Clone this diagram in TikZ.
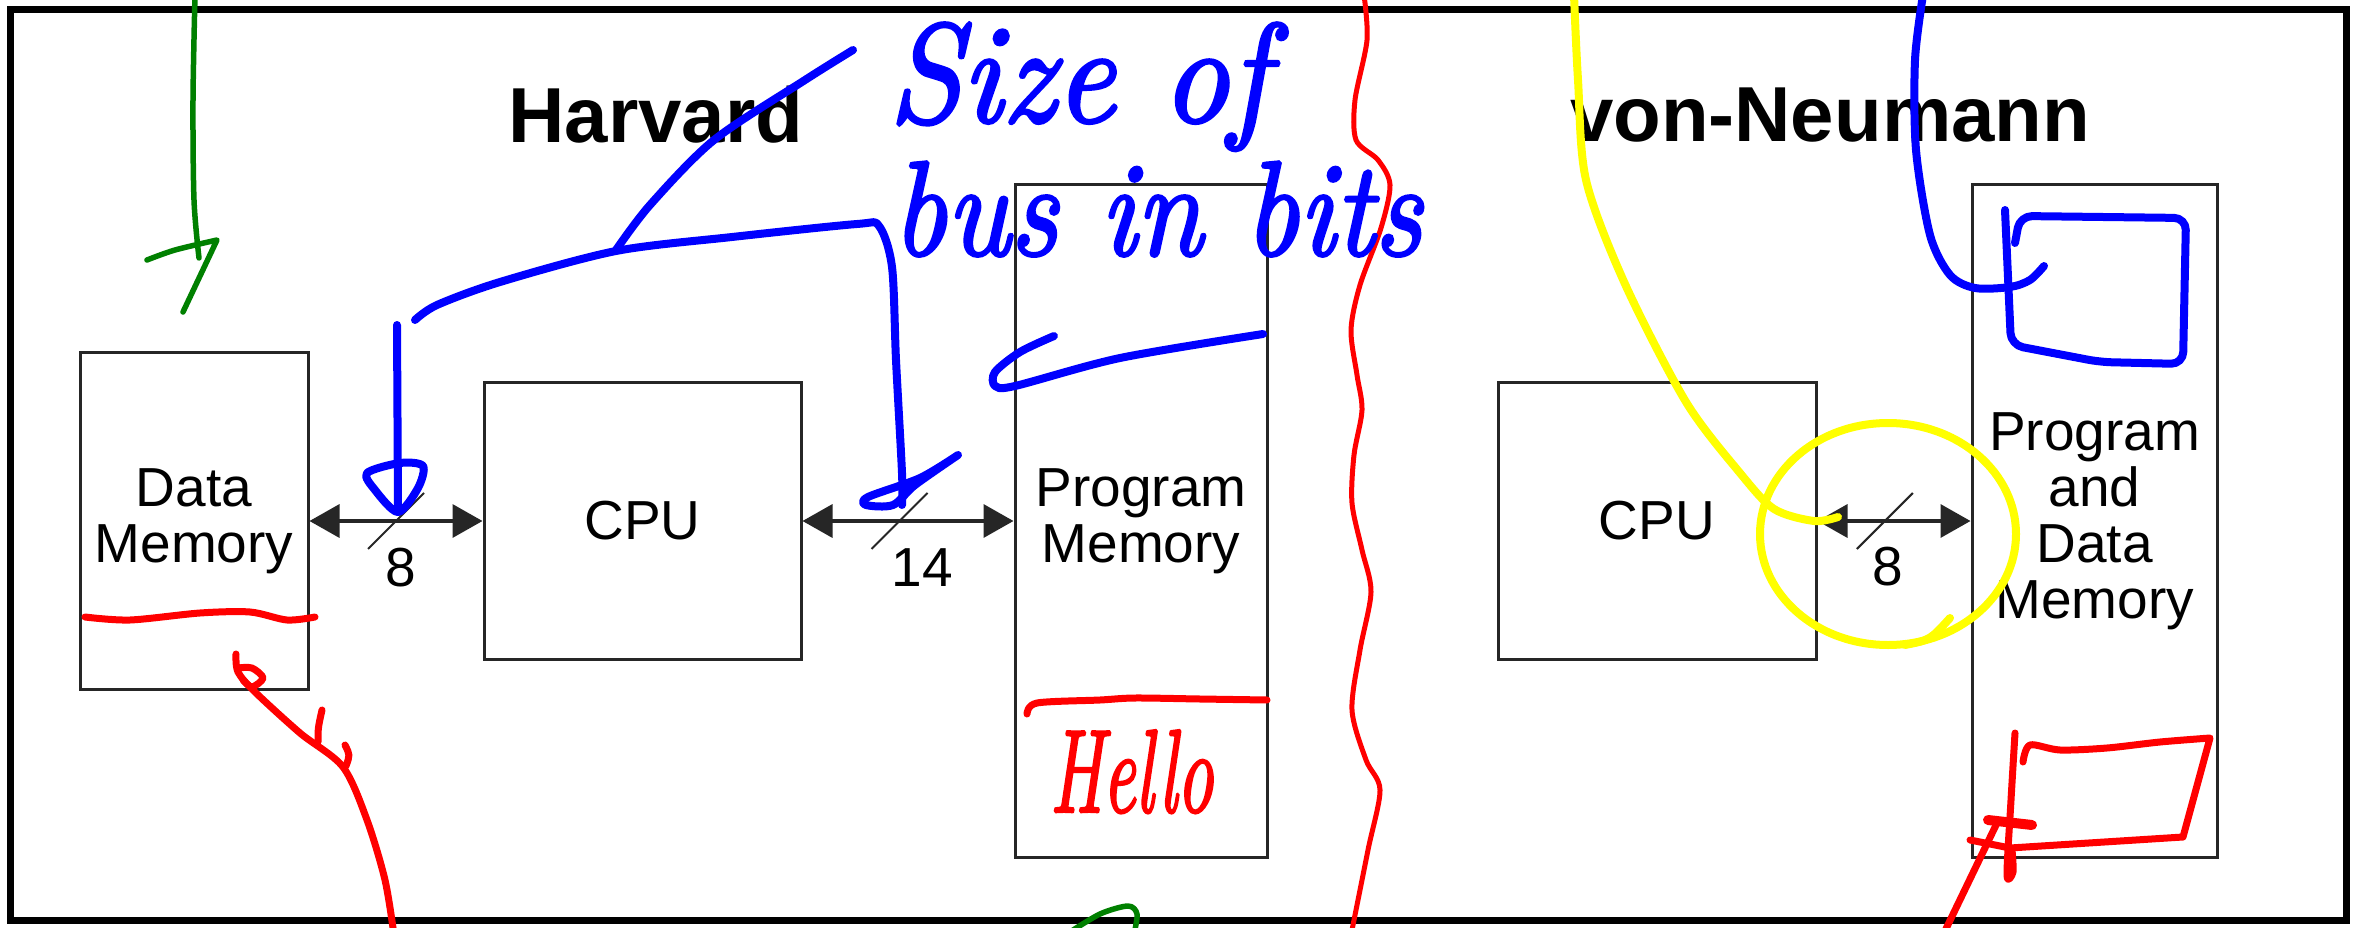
\documentclass[tikz,border=0pt]{standalone}
\usepackage{fontspec}
\newfontfamily\arial{Liberation Sans}
\newfontfamily\handfont{lmroman10-italic.otf}[FakeBold=2.2]
\usetikzlibrary{arrows.meta,calc}
\definecolor{inkblue}{RGB}{0,0,255}
\definecolor{inkred}{RGB}{255,0,0}
\definecolor{inkyellow}{RGB}{255,255,0}
\definecolor{inkgreen}{RGB}{0,128,0}
\begin{document}
\begin{tikzpicture}[x=1pt,y=-1pt,
  box/.style={draw=black!85, line width=3pt, inner sep=0pt, align=center,
    font=\arial\fontsize{55}{56}\selectfont},
  title/.style={inner sep=0pt, font=\arial\bfseries\fontsize{78}{80}\selectfont},
  bus/.style={draw=black!85, line width=3.5pt,
    {Triangle[length=30pt,width=33pt]}-{Triangle[length=30pt,width=33pt]}},
  slash/.style={draw=black!85, line width=2pt},
  buslabel/.style={inner sep=0pt, font=\arial\fontsize{55}{56}\selectfont},
  ink/.style={line cap=round, line join=round},
  blueink/.style={ink, draw=inkblue, line width=8pt},
  redink/.style={ink, draw=inkred, line width=7pt},
  yellowink/.style={ink, draw=inkyellow, line width=8pt},
  greenink/.style={ink, draw=inkgreen, line width=5.5pt},
  hand/.style={inner sep=0pt, anchor=base west, font=\handfont\fontsize{128}{132}\selectfont}
]
\useasboundingbox (0,0) rectangle (2361,928);
\clip (0,0) rectangle (2361,928);
\fill[white] (0,0) rectangle (2361,928);

% frame
\draw[line width=7pt, black] (10.5,10) rectangle (2346,920);

% titles
\node[title] (th) at (656,115) {Harvard};
\node[title] (tv) at (1830,115) {von-Neumann};

% Harvard
\node[box, minimum width=228pt, minimum height=337pt] (dm) at (194,521) {Data\\Memory};
\node[box, minimum width=317pt, minimum height=277pt] (cpu1) at (642.5,521) {CPU};
\node[box, minimum width=252pt, minimum height=672pt] (pm) at (1141,521) {Program\\Memory};

\draw[bus] (dm.east) -- (cpu1.west);
\draw[bus] (cpu1.east) -- (pm.west);
\path (dm.east) -- (cpu1.west) coordinate[pos=0.5] (m1);
\path (cpu1.east) -- (pm.west) coordinate[pos=0.46] (m2);
\draw[slash] ($(m1)+(-28,28)$) -- ($(m1)+(28,-28)$);
\draw[slash] ($(m2)+(-28,28)$) -- ($(m2)+(28,-28)$);
\node[buslabel] (l1) at ($(m1)+(5,47)$) {8};
\node[buslabel] (l2) at ($(m2)+(23,47)$) {14};

% von Neumann
\node[box, minimum width=318pt, minimum height=277pt] (cpu2) at (1657,521) {CPU};
\node[box, minimum width=245pt, minimum height=672pt] (pdm) at (2094.5,521) {Program\\and\\Data\\Memory};
\draw[bus] (cpu2.east) -- (pdm.west);
\path (cpu2.east) -- (pdm.west) coordinate[pos=0.44] (m3);
\draw[slash] ($(m3)+(-28,28)$) -- ($(m3)+(28,-28)$);
\node[buslabel] (l3) at ($(m3)+(3,46)$) {8};

% ---- handwritten annotations ----
% green
\draw[greenink] plot[smooth] coordinates {(195,-5) (193,100) (194,200) (199,258)};
\draw[greenink] plot[smooth] coordinates {(147,260) (175,250) (217,240)} -- (183,312);
\draw[greenink] plot[smooth] coordinates {(1067,934) (1100,914) (1128,906) (1137,914) (1134,934)};

% red divider
\draw[redink, line width=5pt] plot[smooth] coordinates {(1364,-5) (1367,40) (1355,100) (1356,140) (1378,160) (1390,185) (1381,228) (1360,285) (1351,330) (1357,375) (1362,410) (1354,455) (1352,503) (1362,550) (1371,592) (1360,650) (1352,710) (1366,760) (1380,790) (1368,850) (1351,935)};

% red under Data Memory and arrow
\draw[redink] plot[smooth] coordinates {(85,617) (130,620) (200,613) (250,612) (287,620) (315,617)};
\draw[redink] plot[smooth] coordinates {(394,935) (385,880) (367,820) (343,767) (300,733) (255,692) (238,672) (236,654)};
\draw[redink] plot[smooth] coordinates {(238,668) (252,668) (263,678) (252,687) (243,680)};
\draw[redink] (322,710) .. controls (318,728) .. (318,742);
\draw[redink] (345,745) .. controls (350,755) .. (346,766);

% red under Program Memory, Hello
\draw[redink] plot[smooth] coordinates {(1027,714) (1037,703) (1100,700) (1135,698) (1200,699) (1267,700)};
\node[hand, text=inkred, font=\handfont\fontsize{118}{120}\selectfont] (hello) at (1050,812) {\scalebox{0.6}[1]{Hello}};

% red flag
\draw[redink] (1943,935) -- (1997,823);
\draw[redink] plot[smooth] coordinates {(2015,733) (2011,800) (2007,875) (2013,872) (2012,850)};
\draw[redink, line width=10pt] (1988,820) -- (2032,825);
\draw[redink] plot[smooth] coordinates {(2023,762) (2030,745) (2060,750) (2107,748) (2160,742) (2210,738)} -- (2183,837) -- (2010,848) -- (1970,840);

% blue annotations
\node[hand, text=inkblue] (t1) at (888,122) {\scalebox{1.02}[1.1]{Size of}};
\node[hand, text=inkblue] (t2) at (892,255) {\scalebox{0.92}[1.05]{bus in bits}};
\draw[blueink] plot[smooth] coordinates {(853,50) (805,80) (714,140) (650,205) (616,250)};
\draw[blueink] plot[smooth] coordinates {(415,320) (437,305) (500,282) (616,251) (732,237) (857,224) (879,226) (892,267) (896,360) (902,473) (902,505)};
\draw[blueink] plot[smooth] coordinates {(958,455) (920,478) (868,497) (866,505) (893,505) (915,485) (958,455)};
\draw[blueink] (397,325) -- (398,512);
\draw[blueink] plot[smooth cycle] coordinates {(367,473) (400,463) (423,466) (418,488) (398,512) (375,490)};
\draw[blueink] plot[smooth] coordinates {(1054,336) (1020,352) (995,372) (995,386) (1015,386) (1120,358) (1263,334)};
\draw[blueink] plot[smooth] coordinates {(1923,-5) (1915,60) (1916,150) (1930,235) (1950,275) (1975,288) (2010,287) (2030,280) (2044,266)};
\draw[blueink, rounded corners=12pt] (2005,210) -- (2011,345) -- (2100,362) -- (2183,364) -- (2186,218) -- (2020,216) -- (2015,243);

% yellow
\draw[yellowink] plot[smooth] coordinates {(1574,-5) (1578,80) (1586,180) (1625,284) (1686,402) (1740,473) (1774,509) (1814,521) (1838,517)};
\draw[yellowink] (1888,534) ellipse [x radius=128, y radius=111];
\draw[yellowink] (1905,645) .. controls (1930,640) .. (1950,618);
\end{tikzpicture}
\end{document}
